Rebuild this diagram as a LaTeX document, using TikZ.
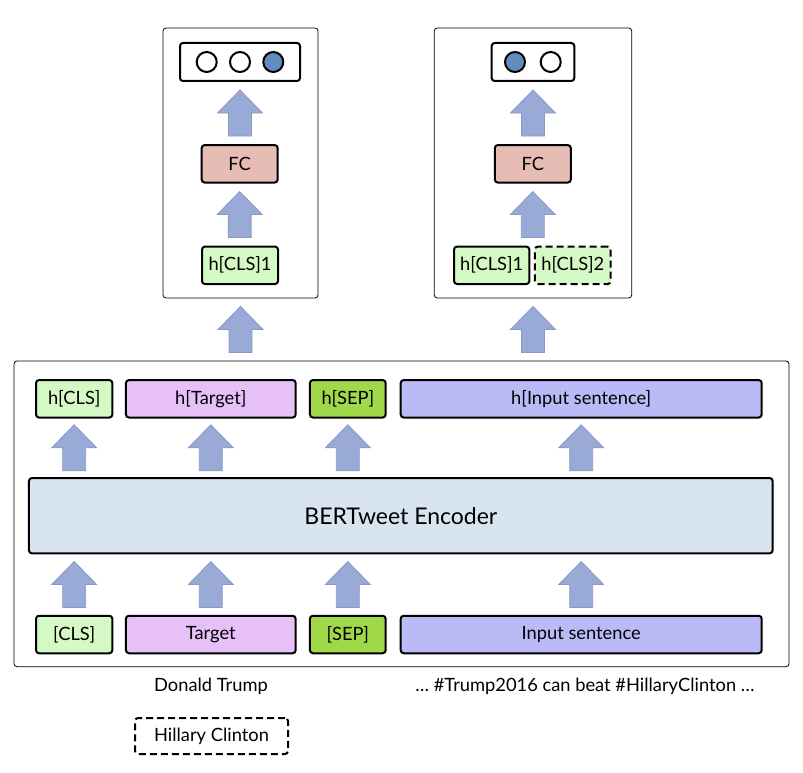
\documentclass[tikz,border=0pt]{standalone}
\usepackage{fontspec}
\setmainfont{Lato}
\usetikzlibrary{calc}

\definecolor{clsgreen}{RGB}{212,249,196}
\definecolor{seplime}{RGB}{160,216,74}
\definecolor{tgtpink}{RGB}{232,192,248}
\definecolor{sentblue}{RGB}{186,186,246}
\definecolor{encblue}{RGB}{216,228,240}
\definecolor{fcred}{RGB}{230,188,181}
\definecolor{arrowfill}{RGB}{154,170,214}
\definecolor{arrowedge}{RGB}{136,152,202}
\definecolor{dotblue}{RGB}{96,140,190}

\tikzset{
  box/.style={draw, line width=2pt, rounded corners=3pt, inner sep=0pt,
    minimum height=37.5pt, font=\fontsize{18.3}{21}\selectfont},
  dashbox/.style={box, dash pattern=on 7pt off 4pt},
  panel/.style={draw, line width=0.8pt, rounded corners=3pt, inner sep=0pt},
  dot/.style={circle, draw, line width=2pt, minimum size=20pt, inner sep=0pt},
  fatarrow/.style={fill=arrowfill, draw=arrowedge, line width=0.8pt},
  plain/.style={font=\fontsize{18.3}{21}\selectfont}
}

% block arrow: x from #1, between #2 (below) and #3 (above)
\newcommand{\fatup}[3]{%
  \path[fatarrow] let \p1=(#1), \p2=(#2.north), \p3=(#3.south), \n1={(\y2+\y3)/2} in
    (\x1-11.5pt,\n1-23pt) -- (\x1+11.5pt,\n1-23pt) -- (\x1+11.5pt,\n1)
    -- (\x1+22.5pt,\n1) -- (\x1,\n1+23pt) -- (\x1-22.5pt,\n1)
    -- (\x1-11.5pt,\n1) -- cycle;}

\begin{document}
\begin{tikzpicture}[x=1pt, y=-1pt]
    \useasboundingbox (0,0) rectangle (803,773);

    % Left classifier panel
    \node[panel, minimum width=155pt, minimum height=270pt] (panelL) at (240.5,163) {};
    \node[box, minimum width=120pt, minimum height=38pt] (outL) at (240,62) {};
    \node[dot] (dotLa) at (206.7,62) {};
    \node[dot] (dotLb) at (240,62) {};
    \node[dot, fill=dotblue] (dotLc) at (273.3,62) {};
    \node[box, fill=fcred, minimum width=76pt] (fcL) at (239.7,163.8) {FC};
    \node[box, fill=clsgreen, minimum width=76pt] (clsL) at (240,265.3) {h[CLS]1};

    % Right classifier panel
    \node[panel, minimum width=197.4pt, minimum height=270pt] (panelR) at (533,163) {};
    \node[box, minimum width=82.6pt, minimum height=38pt] (outR) at (533,62) {};
    \node[dot, fill=dotblue] (dotRa) at (515,62) {};
    \node[dot] (dotRb) at (550.7,62) {};
    \node[box, fill=fcred, minimum width=76pt] (fcR) at (532.8,163.8) {FC};
    \node[box, fill=clsgreen, minimum width=75.3pt] (clsRa) at (491.7,265.3) {h[CLS]1};
    \node[dashbox, fill=clsgreen, minimum width=75.7pt] (clsRb) at (572.8,265.3) {h[CLS]2};

    % Encoder block
    \node[panel, minimum width=775pt, minimum height=305.7pt] (big) at (401.5,513.8) {};
    \node[box, fill=clsgreen, minimum width=76.3pt] (hcls) at (74.2,398.8) {h[CLS]};
    \node[box, fill=tgtpink, minimum width=169.7pt] (htgt) at (210.8,398.8) {h[Target]};
    \node[box, fill=seplime, minimum width=75.7pt] (hsep) at (347.8,398.8) {h[SEP]};
    \node[box, fill=sentblue, minimum width=361pt] (hsent) at (581.2,398.8) {h[Input sentence]};
    \node[box, fill=encblue, minimum width=743.7pt, minimum height=75.3pt,
      font=\fontsize{23}{26}\selectfont] (enc) at (400.8,515.7) {BERTweet Encoder};
    \node[box, fill=clsgreen, minimum width=76.3pt] (icls) at (74.2,634.5) {[CLS]};
    \node[box, fill=tgtpink, minimum width=169.7pt] (itgt) at (210.8,634.5) {Target};
    \node[box, fill=seplime, minimum width=75.7pt] (isep) at (347.8,634.5) {[SEP]};
    \node[box, fill=sentblue, minimum width=361pt] (isent) at (581.2,634.5) {Input sentence};

    % Examples below
    \node[plain] (extgt) at (211,686) {Donald Trump};
    \node[plain] (exsent) at (585,686) {\dots\ \#Trump2016 can beat \#HillaryClinton \dots};
    \node[dashbox, minimum width=153pt, minimum height=36pt] (exalt) at (211.5,736) {Hillary Clinton};

    % Block arrows
    \fatup{outL}{fcL}{outL}
    \fatup{fcL}{clsL}{fcL}
    \fatup{outR}{fcR}{outR}
    \fatup{fcR}{clsRa}{fcR}
    \fatup{panelL}{big}{panelL}
    \fatup{panelR}{big}{panelR}
    \foreach \k in {cls,tgt,sep,sent} {
        \fatup{h\k}{enc}{h\k}
        \fatup{i\k}{i\k}{enc}
    }
\end{tikzpicture}
\end{document}
